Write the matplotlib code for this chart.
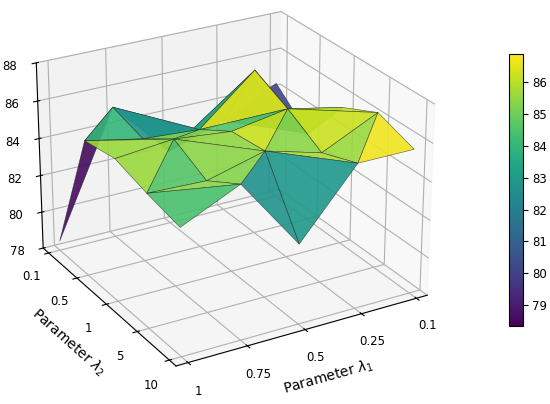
import numpy as np
import matplotlib
matplotlib.use('Agg')
import matplotlib.pyplot as plt
from matplotlib.cm import ScalarMappable

# tick labels of the two parameters (grid index 0..4)
lam1 = ['0.1', '0.25', '0.5', '0.75', '1']
lam2 = ['0.1', '0.5', '1', '5', '10']

# accuracy surface, rows = lambda1 index, cols = lambda2 index
acc = [
    [84.4, 82.8, 85.4, 86.3, 85.6],
    [83.0, 86.9, 86.0, 84.9, 85.6],
    [82.0, 84.4, 85.5, 85.7, 82.2],
    [85.1, 84.6, 85.8, 84.9, 86.0],
    [78.5, 85.2, 85.5, 85.0, 84.6],
]

# triangulation of the grid, each corner as (lambda1 idx, lambda2 idx)
tris = [
    [(4, 0), (4, 1), (3, 0)], [(4, 1), (3, 0), (3, 1)], [(3, 0), (3, 1), (2, 1)],
    [(3, 0), (2, 0), (2, 1)], [(4, 1), (4, 2), (3, 2)], [(4, 1), (3, 1), (3, 2)],
    [(3, 1), (2, 1), (3, 2)], [(2, 1), (2, 2), (3, 2)], [(4, 2), (3, 2), (4, 3)],
    [(3, 2), (3, 3), (4, 3)], [(3, 3), (4, 3), (3, 4)], [(4, 3), (3, 4), (4, 4)],
    [(2, 2), (3, 2), (2, 3)], [(3, 2), (2, 3), (3, 3)], [(2, 3), (3, 3), (3, 4)],
    [(2, 3), (3, 4), (2, 4)], [(1, 3), (2, 3), (1, 4)], [(2, 3), (1, 4), (2, 4)],
    [(1, 2), (2, 2), (2, 3)], [(1, 2), (1, 3), (2, 3)], [(1, 1), (2, 1), (1, 2)],
    [(2, 1), (2, 2), (1, 2)], [(0, 2), (1, 2), (0, 3)], [(1, 2), (0, 3), (1, 3)],
    [(0, 3), (1, 3), (1, 4)], [(0, 3), (0, 4), (1, 4)], [(1, 0), (2, 0), (1, 1)],
    [(2, 0), (2, 1), (1, 1)], [(0, 0), (1, 0), (0, 1)], [(1, 0), (0, 1), (1, 1)],
    [(0, 1), (1, 1), (1, 2)], [(0, 1), (0, 2), (1, 2)],
]

# colour value of each triangle, as shown in the figure
tri_score = [
    78.6, 84.0, 82.8, 82.5, 85.6, 85.0, 85.2, 85.3, 85.6, 84.6, 85.4,
    84.4, 85.5, 85.4, 85.3, 82.7, 85.8, 82.9, 86.2, 85.4, 86.5, 84.6,
    86.0, 86.2, 85.6, 86.7, 83.0, 83.5, 80.1, 83.0, 84.5, 85.0,
]

I, J = np.meshgrid(range(len(lam1)), range(len(lam2)), indexing='ij')
x = I.ravel()
y = J.ravel()
z = np.array(acc).ravel()
tri_idx = [[a * len(lam2) + b for a, b in t] for t in tris]

fig = plt.figure(figsize=(5.5, 4.04), dpi=100)
ax = fig.add_axes([-0.038, -0.004, 0.896, 1.093], projection='3d')
surf = ax.plot_trisurf(x, y, z, triangles=tri_idx, cmap='viridis',
                       edgecolor=(0.1, 0.1, 0.1, 0.7), linewidth=0.4, alpha=0.9)
surf.set_array(np.array(tri_score))
surf.set_clim(78.35, 86.87)

ax.set_box_aspect((4, 4, 2.9))
ax.set_xlim(-0.2, 4.2)
ax.set_ylim(-0.2, 4.2)
ax.set_zlim(78, 88)
ax.view_init(elev=25, azim=60)
ax.set_xticks(range(len(lam1)))
ax.set_xticklabels(lam1)
ax.set_yticks(range(len(lam2)))
ax.set_yticklabels(lam2)
ax.tick_params(labelsize=8.5)
ax.set_xlabel(r'Parameter $\lambda_1$', fontsize=10)
ax.set_ylabel(r'Parameter $\lambda_2$', fontsize=10)

cax = fig.add_axes([0.925, 0.193, 0.0255, 0.673])
cb = fig.colorbar(ScalarMappable(norm=surf.norm, cmap='viridis'), cax=cax)
cb.ax.tick_params(labelsize=8.5)

fig.savefig('out.png')
